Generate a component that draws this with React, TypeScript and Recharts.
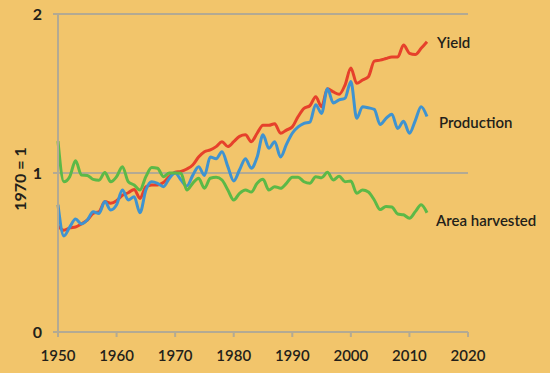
import { CartesianGrid, LabelList, Line, LineChart, XAxis, YAxis } from "recharts";

const years = Array.from({ length: 64 }, (_, i) => 1950 + i);

const yieldIdx = [
  0.667, 0.64, 0.655, 0.66, 0.68, 0.704, 0.746, 0.756, 0.82, 0.81,
  0.826, 0.86, 0.876, 0.897, 0.84, 0.914, 0.925, 0.925, 0.94, 0.977,
  1.005, 1.01, 1.025, 1.05, 1.1, 1.134, 1.145, 1.166, 1.197, 1.166,
  1.197, 1.23, 1.24, 1.197, 1.25, 1.3, 1.3, 1.31, 1.25, 1.27,
  1.29, 1.355, 1.407, 1.423, 1.48, 1.417, 1.53, 1.51, 1.495, 1.553,
  1.66, 1.564, 1.585, 1.606, 1.704, 1.71, 1.72, 1.73, 1.73, 1.805,
  1.753, 1.745, 1.784, 1.826,
];

const production = [
  0.8, 0.604, 0.66, 0.71, 0.68, 0.704, 0.757, 0.746, 0.82, 0.767,
  0.8, 0.893, 0.83, 0.85, 0.75, 0.893, 0.945, 0.935, 0.914, 0.966,
  1.0, 0.956, 0.918, 0.985, 1.04, 0.985, 1.1, 1.09, 1.134, 1.04,
  0.95, 1.02, 1.09, 1.03, 1.1, 1.24, 1.155, 1.197, 1.1, 1.18,
  1.25, 1.29, 1.312, 1.32, 1.43, 1.375, 1.53, 1.44, 1.46, 1.47,
  1.575, 1.344, 1.417, 1.41, 1.4, 1.305, 1.344, 1.37, 1.28, 1.325,
  1.25, 1.33, 1.417, 1.355,
];

const areaHarvested = [
  1.2, 0.945, 0.977, 1.077, 0.987, 0.985, 0.96, 0.955, 1.003, 0.945,
  0.977, 1.04, 0.945, 0.925, 0.893, 0.977, 1.035, 1.03, 0.977, 1.0,
  1.0, 0.998, 0.893, 0.935, 0.967, 0.904, 0.967, 0.973, 0.956, 0.893,
  0.83, 0.872, 0.893, 0.88, 0.935, 0.96, 0.893, 0.914, 0.904, 0.935,
  0.973, 0.973, 0.945, 0.935, 0.977, 0.97, 1.004, 0.956, 0.98, 0.945,
  0.95, 0.872, 0.893, 0.88, 0.83, 0.77, 0.79, 0.786, 0.742, 0.737,
  0.715, 0.757, 0.8, 0.75,
];

const xTicks = [1950, 1960, 1970, 1980, 1990, 2000, 2010, 2020];
const yTicks = [0, 1, 2];

const data = years.map((year, i) => ({
  year,
  yield: yieldIdx[i],
  production: production[i],
  area: areaHarvested[i],
}));

const FONT = "Lato, 'DejaVu Sans', sans-serif";
const GRID = "#b3aa93";
const TEXT = "#231f1a";

const series = [
  { key: "yield", name: "Yield", color: "#e6412b", dx: 10, dy: 1 },
  { key: "production", name: "Production", color: "#3f93d0", dx: 12, dy: 6 },
  { key: "area", name: "Area harvested", color: "#5cb947", dx: 9, dy: 8 },
];

function endLabel(name: string, dx: number, dy: number) {
  return (props: any) => {
    if (props.index !== data.length - 1) return null;
    return (
      <text x={props.x + dx} y={props.y + dy} dy={5} fill={TEXT} fontSize={15} fontFamily={FONT} fontWeight={600}>
        {name}
      </text>
    );
  };
}

function yAxisTitle(props: any) {
  const vb = props.viewBox;
  const cx = vb.x + 19;
  const cy = vb.y + vb.height / 2 + 6;
  return (
    <text
      x={cx}
      y={cy}
      transform={`rotate(-90 ${cx} ${cy})`}
      textAnchor="middle"
      dominantBaseline="central"
      fill={TEXT}
      fontSize={16}
      fontFamily={FONT}
      fontWeight={700}
    >
      1970 = 1
    </text>
  );
}

export default function App() {
  return (
    <div style={{ position: "absolute", left: 0, top: 0, width: 550, height: 373, background: "#f2c56b" }}>
      <LineChart width={550} height={373} data={data} margin={{ top: 14, right: 82, bottom: 0, left: 0 }}>
        <CartesianGrid vertical={false} stroke={GRID} strokeWidth={2} />
        <XAxis
          dataKey="year"
          type="number"
          domain={[1950, 2020]}
          ticks={xTicks}
          height={41}
          stroke={GRID}
          strokeWidth={2}
          tickSize={5}
          tickMargin={13}
          tick={{ fill: TEXT, fontSize: 15, fontFamily: FONT, fontWeight: 600 }}
        />
        <YAxis
          type="number"
          domain={[0, 2]}
          ticks={yTicks}
          width={58}
          stroke={GRID}
          strokeWidth={2}
          tickSize={5}
          tickMargin={11}
          tick={{ fill: TEXT, fontSize: 16, fontFamily: FONT, fontWeight: 700 }}
          label={{ content: yAxisTitle }}
        />
        {series.map((s) => (
          <Line
            key={s.key}
            dataKey={s.key}
            type="monotone"
            stroke={s.color}
            strokeWidth={3}
            dot={false}
            isAnimationActive={false}
          >
            <LabelList dataKey={s.key} content={endLabel(s.name, s.dx, s.dy)} />
          </Line>
        ))}
      </LineChart>
    </div>
  );
}
